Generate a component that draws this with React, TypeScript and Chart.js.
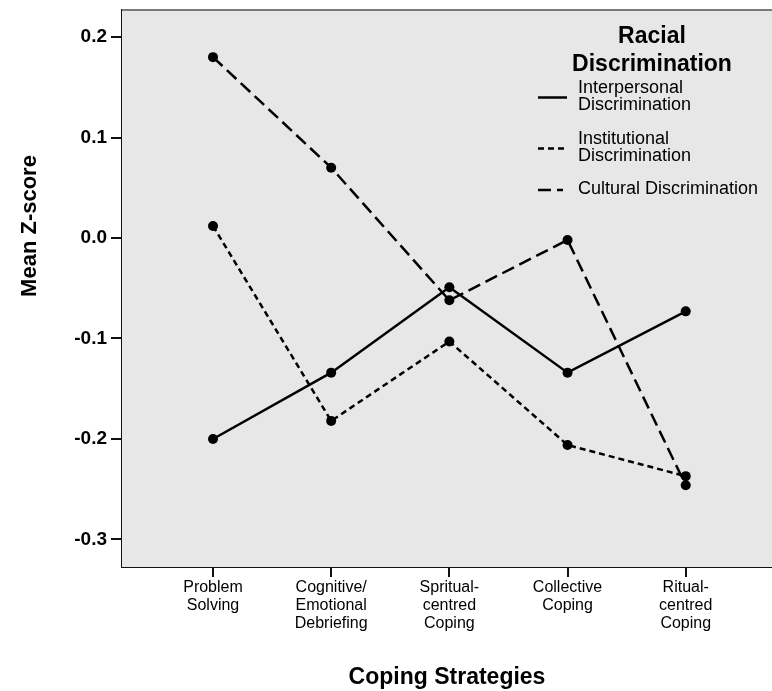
import React, { useEffect, useRef } from "react";
import { Chart, registerables } from "chart.js";

Chart.register(...registerables);

const categories: string[][] = [
  ["Problem", "Solving"],
  ["Cognitive/", "Emotional", "Debriefing"],
  ["Spritual-", "centred", "Coping"],
  ["Collective", "Coping"],
  ["Ritual-", "centred", "Coping"],
];

const interpersonal = [-0.2, -0.134, -0.049, -0.134, -0.073];
const institutional = [0.012, -0.182, -0.103, -0.206, -0.237];
const cultural = [0.18, 0.07, -0.062, -0.002, -0.246];

const yTicks = [0.2, 0.1, 0.0, -0.1, -0.2, -0.3];

const seriesNames: string[][] = [
  ["Interpersonal", "Discrimination"],
  ["Institutional", "Discrimination"],
  ["Cultural Discrimination"],
];
const legendTitle = ["Racial", "Discrimination"];
const xTitle = "Coping Strategies";
const yTitle = "Mean Z-score";

const FONT = "'Liberation Sans', Arial, Helvetica, sans-serif";

const toPoints = (vals: number[]) => vals.map((v, i) => ({ x: i, y: v }));

export default function App() {
  const ref = useRef<HTMLCanvasElement | null>(null);

  useEffect(() => {
    document.body.style.margin = "0";
    const canvas = ref.current;
    if (!canvas) return;

    const dashes = [[], [6, 4], [13, 6]];

    const decor = {
      id: "decor",
      beforeDatasetsDraw(chart: any) {
        const { ctx, chartArea } = chart;
        ctx.save();
        ctx.fillStyle = "#e7e7e7";
        ctx.fillRect(chartArea.left, chartArea.top, chartArea.right - chartArea.left, chartArea.bottom - chartArea.top);
        ctx.strokeStyle = "#7a7a7a";
        ctx.lineWidth = 2;
        ctx.beginPath();
        ctx.moveTo(chartArea.left, chartArea.top);
        ctx.lineTo(chartArea.right, chartArea.top);
        ctx.stroke();
        ctx.restore();
      },
      afterDraw(chart: any) {
        const { ctx } = chart;
        ctx.save();
        ctx.fillStyle = "#000";
        ctx.save();
        ctx.translate(30, 226);
        ctx.rotate(-Math.PI / 2);
        ctx.font = `bold 22px ${FONT}`;
        ctx.textAlign = "center";
        ctx.textBaseline = "middle";
        ctx.fillText(yTitle, 0, 0);
        ctx.restore();

        const cx = 652;
        ctx.font = `bold 23px ${FONT}`;
        ctx.textAlign = "center";
        ctx.textBaseline = "middle";
        ctx.fillText(legendTitle[0], cx, 37);
        ctx.fillText(legendTitle[1], cx, 65);

        ctx.font = `18px ${FONT}`;
        ctx.textAlign = "left";
        const entryTops = [88, 139, 189];
        chart.data.datasets.forEach((ds: any, i: number) => {
          const lines = seriesNames[i];
          const top = entryTops[i];
          lines.forEach((t, j) => ctx.fillText(t, 578, top + j * 17));
          const sy = top + ((lines.length - 1) * 17) / 2 + 1;
          ctx.strokeStyle = "#000";
          ctx.lineWidth = 2.5;
          ctx.setLineDash(ds.borderDash || []);
          ctx.beginPath();
          ctx.moveTo(538, sy);
          ctx.lineTo(i === 2 ? 563 : 567, sy);
          ctx.stroke();
        });
        ctx.setLineDash([]);
        ctx.restore();
      },
    };

    const mk = (label: string, vals: number[], dash: number[]) => ({
      label,
      data: toPoints(vals),
      borderColor: "#000",
      backgroundColor: "#000",
      borderWidth: 2.5,
      borderDash: dash,
      pointRadius: 5,
      pointBackgroundColor: "#000",
      pointBorderColor: "#000",
      pointBorderWidth: 0,
      tension: 0,
      fill: false,
    });

    const chart = new Chart(canvas, {
      type: "line",
      data: {
        datasets: [
          mk(seriesNames[0].join(" "), interpersonal, dashes[0]),
          mk(seriesNames[1].join(" "), institutional, dashes[1]),
          mk(seriesNames[2].join(" "), cultural, dashes[2]),
        ],
      },
      options: {
        animation: false,
        responsive: false,
        devicePixelRatio: 1,
        layout: { autoPadding: false, padding: { top: 10, right: 0, left: 0, bottom: 0 } },
        plugins: {
          legend: { display: false },
          tooltip: { enabled: false },
        },
        scales: {
          x: {
            type: "linear",
            min: -0.77,
            max: 4.73,
            afterBuildTicks: (scale: any) => {
              scale.ticks = categories.map((_, i) => ({ value: i }));
            },
            afterFit: (scale: any) => {
              scale.height = 124;
              scale.paddingLeft = 0;
              scale.paddingRight = 0;
            },
            ticks: {
              autoSkip: false,
              maxRotation: 0,
              padding: 1,
              color: "#000",
              font: { family: FONT, size: 16, lineHeight: 1.15 },
              callback: (v: any) => categories[Math.round(Number(v))] ?? "",
            },
            grid: {
              drawOnChartArea: false,
              drawTicks: true,
              tickLength: 10,
              color: "#111",
              lineWidth: 2,
            },
            border: { display: true, color: "#111", width: 2 },
            title: {
              display: true,
              text: xTitle,
              color: "#000",
              font: { family: FONT, size: 23, weight: "bold", lineHeight: 1.2 },
              padding: { top: 0, bottom: 0 },
            },
          },
          y: {
            type: "linear",
            min: -0.3274,
            max: 0.2269,
            afterBuildTicks: (scale: any) => {
              scale.ticks = yTicks.map((v) => ({ value: v }));
            },
            afterFit: (scale: any) => {
              scale.width = 122;
              scale.paddingTop = 0;
              scale.paddingBottom = 0;
            },
            ticks: {
              padding: 4,
              color: "#000",
              font: { family: FONT, size: 19, weight: "bold" },
              callback: (v: any) => Number(v).toFixed(1).replace("-0.0", "0.0"),
            },
            grid: {
              drawOnChartArea: false,
              drawTicks: true,
              tickLength: 11,
              color: "#111",
              lineWidth: 2,
            },
            border: { display: true, color: "#111", width: 2 },
          },
        },
      },
      plugins: [decor],
    });

    return () => chart.destroy();
  }, []);

  return (
    <div style={{ position: "absolute", left: 0, top: 0, width: 772, height: 691, background: "#fff" }}>
      <canvas ref={ref} width={772} height={691} style={{ display: "block", width: 772, height: 691 }} />
    </div>
  );
}
